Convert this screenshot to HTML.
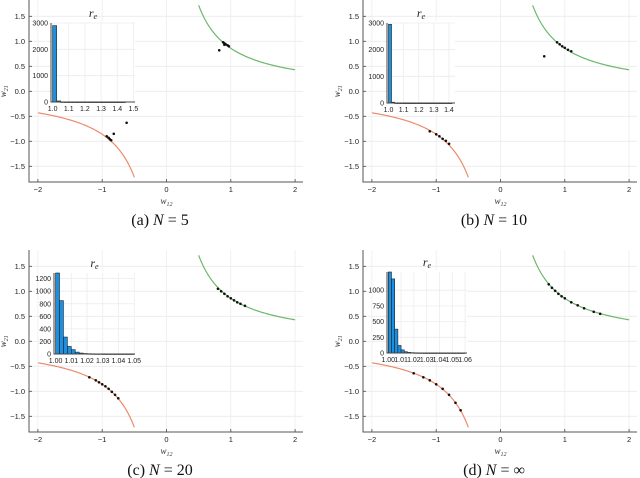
<!DOCTYPE html>
<html><head><meta charset="utf-8"><style>
body{margin:0;background:#fff}
svg{display:block;font-family:"Liberation Sans",sans-serif}
.cap{font-family:"Liberation Serif",serif;font-size:16px}
</style></head><body>
<svg id="c" width="640" height="478" xmlns="http://www.w3.org/2000/svg"></svg>
<script>
const panelLabels=["(a) N = 5","(b) N = 10","(c) N = 20","(d) N = \u221E"];
const xTicks=[-2,-1,0,1,2];
const yTicks=[-1.5,-1.0,-0.5,0.0,0.5,1.0,1.5];
// scatter points (w12, w21) for each panel
const ptsA=[[0.88,0.98],[0.9,0.96],[0.92,0.94],[0.95,0.92],[0.97,0.9],[0.9,0.93],[0.82,0.82],[-0.9,-0.93],[-0.88,-0.96],[-0.93,-0.9],[-0.86,-0.98],[-0.82,-0.85],[-0.62,-0.63]];
const ptsB=[[0.88,0.98],[0.92,0.94],[0.96,0.9],[1.0,0.87],[1.05,0.83],[1.1,0.8],[0.68,0.7],[-0.85,-0.99],[-0.9,-0.95],[-0.95,-0.9],[-1.0,-0.86],[-1.1,-0.8],[-0.8,-1.05]];
const ptsC=[[0.8,1.05],[0.85,1.0],[0.9,0.95],[0.95,0.9],[1.0,0.86],[1.05,0.82],[1.1,0.78],[1.15,0.75],[1.22,0.71],[-0.8,-1.07],[-0.85,-1.01],[-0.9,-0.95],[-0.95,-0.9],[-1.0,-0.86],[-1.05,-0.82],[-1.1,-0.78],[-1.2,-0.72],[-0.75,-1.14]];
const ptsD=[[0.75,1.14],[0.8,1.07],[0.85,1.01],[0.9,0.95],[0.95,0.9],[1.0,0.86],[1.1,0.78],[1.2,0.72],[1.3,0.66],[1.45,0.59],[1.55,0.55],[-0.62,-1.38],[-0.7,-1.23],[-0.8,-1.07],[-0.9,-0.95],[-1.0,-0.86],[-1.1,-0.78],[-1.2,-0.72],[-1.35,-0.64]];
const allPts=[ptsA,ptsB,ptsC,ptsD];
// histogram data
const histStartA=1.0, histWidthA=0.025, histA=[2900,40,5,3,2,2,2,2,2,1,1,1,1,1,1,1,1,1];
const histStartB=1.0, histWidthB=0.02, histB=[2950,30,3,2,2,1,1,1,1,1,1,1,1,1,1,1,1,1,1,1,1];
const histStartC=1.0, histWidthC=0.0025, histC=[1300,850,270,120,70,30,15,8,5,4,3,3,2,2,2,2,2,2,2,2];
const histStartD=1.0, histWidthD=0.0025, histD=[1350,1180,380,120,50,20,10,6,4,3,3,2,2,2,2,2,2,2,2,2,2,2,2,2];
const histTicksXA=[1.0,1.1,1.2,1.3,1.4,1.5], histTicksYA=[0,1000,2000,3000];
const histTicksXB=[1.0,1.1,1.2,1.3,1.4], histTicksYB=[0,1000,2000,3000];
const histTicksXC=[1.00,1.01,1.02,1.03,1.04,1.05], histTicksYC=[0,200,400,600,800,1000,1200];
const histTicksXD=[1.00,1.01,1.02,1.03,1.04,1.05,1.06], histTicksYD=[0,250,500,750,1000];
const hists=[
 {start:histStartA,w:histWidthA,v:histA,tx:histTicksXA,ty:histTicksYA,xmin:0.99,xmax:1.51,ymax:3000,fx:1},
 {start:histStartB,w:histWidthB,v:histB,tx:histTicksXB,ty:histTicksYB,xmin:0.99,xmax:1.44,ymax:3000,fx:1},
 {start:histStartC,w:histWidthC,v:histC,tx:histTicksXC,ty:histTicksYC,xmin:0.999,xmax:1.0505,ymax:1290,fx:2},
 {start:histStartD,w:histWidthD,v:histD,tx:histTicksXD,ty:histTicksYD,xmin:0.999,xmax:1.0615,ymax:1290,fx:2}
];
const insetBox=[[51,23,135,102],[387,23,455,103],[54,273,135,354],[387,272,467,353]];
const NS="http://www.w3.org/2000/svg";
const svg=document.getElementById('c');
function mk(t,a,p){const e=document.createElementNS(NS,t);for(const k in a)e.setAttribute(k,a[k]);(p||svg).appendChild(e);return e;}
for(let p=0;p<4;p++){
 const ox=(p%2)*334, oy=Math.floor(p/2)*250;
 const g=mk('g',{});
 
 
 const X=v=>ox+166.5+v*64.3, Y=v=>oy+91.3-v*50;
 const L=ox+29,R=ox+303,T=oy+0,B=oy+182;
 xTicks.forEach(t=>{mk('line',{x1:X(t),x2:X(t),y1:T,y2:B,stroke:'#ececec','stroke-width':0.8},g);
  const tl=mk('text',{x:X(t),y:B+10,'font-size':7.5,'text-anchor':'middle',fill:'#222'},g);tl.textContent=(t<0?'\u2212'+(-t):t);
  
  mk('line',{x1:X(t),x2:X(t),y1:B,y2:B-3,stroke:'#444','stroke-width':0.8},g);});
 yTicks.forEach(t=>{mk('line',{x1:L,x2:R,y1:Y(t),y2:Y(t),stroke:'#ececec','stroke-width':0.8},g);
  const tl=mk('text',{x:L-4,y:Y(t)+2.7,'font-size':7.5,'text-anchor':'end',fill:'#222'},g);tl.textContent=(t<0?'\u2212':'')+Math.abs(t).toFixed(1);
  
  mk('line',{x1:L,x2:L+3,y1:Y(t),y2:Y(t),stroke:'#444','stroke-width':0.8},g);});
 mk('polyline',{points:`${L},${T} ${L},${B} ${R},${B}`,fill:'none',stroke:'#555','stroke-width':1},g);
 let gp='',rp='';
 for(let i=0;i<=60;i++){const x=0.5+1.5*i/60;gp+=(i?'L':'M')+X(x)+','+Y(0.86/x);rp+=(i?'L':'M')+X(-x)+','+Y(-0.86/x);}
 const gc=mk('path',{d:gp,fill:'none',stroke:'#6cb86c','stroke-width':1.2},g);
 
 const rc=mk('path',{d:rp,fill:'none',stroke:'#ee8a6a','stroke-width':1.2},g);
 
 allPts[p].forEach(q=>{const c=mk('circle',{cx:X(q[0]),cy:Y(q[1]),r:1.3,fill:'#111'},g);
  });
 const xl=mk('text',{x:X(0),y:B+22,'font-size':9,'text-anchor':'middle','font-family':'Liberation Serif, serif','font-style':'italic',fill:'#333'},g);
 xl.innerHTML='w<tspan font-size="6" dy="2">12</tspan>';
 
 const yl=mk('text',{x:0,y:0,'font-size':9,'text-anchor':'middle','font-family':'Liberation Serif, serif','font-style':'italic',fill:'#333',transform:`translate(${ox+6},${Y(0)}) rotate(-90)`},g);
 yl.innerHTML='w<tspan font-size="6" dy="2">21</tspan>';
 
 const cp=mk('text',{x:ox+160,y:oy+225,'text-anchor':'middle',class:'cap',fill:'#111'},g);
 cp.innerHTML=panelLabels[p].replace('N','<tspan font-style="italic">N</tspan>');
 
 const h=hists[p],[il,it,ir,ib]=insetBox[p];
 const ig=mk('g',{},g);
 
 mk('rect',{x:il,y:it-2,width:ir-il,height:ib-it+2,fill:'#fff'},ig);
 const HX=v=>il+(v-h.xmin)/(h.xmax-h.xmin)*(ir-il), HY=v=>ib-v/h.ymax*(ib-it);
 h.tx.forEach(t=>{mk('line',{x1:HX(t),x2:HX(t),y1:it,y2:ib,stroke:'#ececec','stroke-width':0.8},ig);
  const tl=mk('text',{x:HX(t),y:ib+9,'font-size':7,'text-anchor':'middle',fill:'#222'},ig);tl.textContent=t.toFixed(h.fx);
  });
 h.ty.forEach(t=>{mk('line',{x1:il,x2:ir,y1:HY(t),y2:HY(t),stroke:'#ececec','stroke-width':0.8},ig);
  const tl=mk('text',{x:il-3,y:HY(t)+2.5,'font-size':7,'text-anchor':'end',fill:'#222'},ig);tl.textContent=t;
  });
 h.v.forEach((v,i)=>{const x0=HX(h.start+i*h.w),x1=HX(h.start+(i+1)*h.w);if(x1>ir)return;
  const r=mk('rect',{x:x0,y:HY(Math.min(v,h.ymax)),width:x1-x0,height:Math.max(ib-HY(Math.min(v,h.ymax)),0.6),fill:'#1b8fe0',stroke:'#222','stroke-width':0.6},ig);
  });
 mk('polyline',{points:`${il},${it} ${il},${ib} ${ir},${ib}`,fill:'none',stroke:'#444','stroke-width':1},ig);
 const ti=mk('text',{x:(il+ir)/2,y:it-6,'font-size':12,'text-anchor':'middle','font-family':'Liberation Serif, serif','font-style':'italic',fill:'#222'},ig);
 ti.innerHTML='r<tspan font-size="8" dy="2">e</tspan>';
 
}
</script>
</body></html>
